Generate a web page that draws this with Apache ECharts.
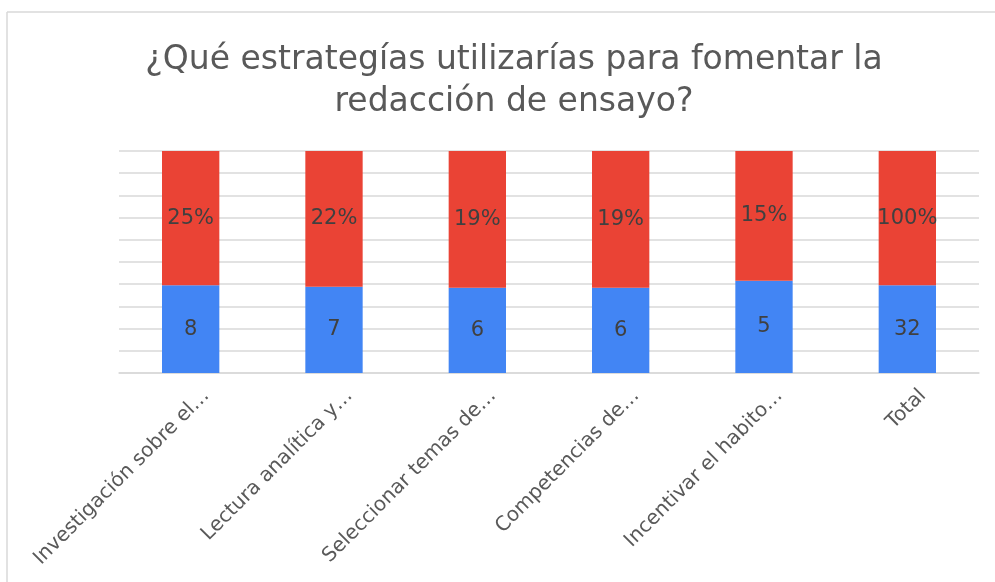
<!DOCTYPE html>
<html>
<head>
<meta charset="utf-8">
<script src="https://cdn.jsdelivr.net/npm/echarts@6/dist/echarts.min.js"></script>
<style>
html,body{margin:0;padding:0;background:#fff;}
#chart{width:995px;height:582px;}
</style>
</head>
<body>
<div id="chart"></div>
<script>
var categories = ['Investigación sobre el…', 'Lectura analítica y…', 'Seleccionar temas de…', 'Competencias de…', 'Incentivar el habito…', 'Total'];
var counts = [8, 7, 6, 6, 5, 32];
var percentLabels = ['25%', '22%', '19%', '19%', '15%', '100%'];
// segment shares of the 100% stacked bars
var blueShare = [39.5, 38.9, 38.4, 38.4, 41.6, 39.5];
var redShare = [60.5, 61.1, 61.6, 61.6, 58.4, 60.5];
var titleLines = ['¿Qué estrategías utilizarías para fomentar la', 'redacción de ensayo?'];

var chart = echarts.init(document.getElementById('chart'), null, {renderer: 'canvas'});
var font = 'DejaVu Sans, Liberation Sans, Arial, sans-serif';
var borderStyle = {stroke: '#d9d9d9', lineWidth: 1.5};
chart.setOption({
  animation: false,
  backgroundColor: '#ffffff',
  title: {
    text: titleLines.join('\n'),
    left: 509,
    textAlign: 'center',
    top: 34,
    textStyle: {fontFamily: font, fontSize: 33, fontWeight: 'normal', color: '#595959', lineHeight: 42}
  },
  graphic: [
    {type: 'line', silent: true, shape: {x1: 7, y1: 12, x2: 995, y2: 12}, style: borderStyle},
    {type: 'line', silent: true, shape: {x1: 7, y1: 12, x2: 7, y2: 582}, style: borderStyle}
  ],
  grid: {left: 119, right: 16, top: 151, bottom: 209, containLabel: false},
  xAxis: {
    type: 'category',
    data: categories,
    axisLine: {show: true, lineStyle: {color: '#d9d9d9', width: 1.5}},
    axisTick: {show: false},
    axisLabel: {rotate: 45, interval: 0, margin: 4, verticalAlign: 'top', align: 'right',
      padding: [12, 0, 0, 0],
      fontFamily: font, fontSize: 20, color: '#595959'}
  },
  yAxis: {
    type: 'value', min: 0, max: 100, interval: 10,
    axisLabel: {show: false}, axisLine: {show: false}, axisTick: {show: false},
    splitLine: {lineStyle: {color: '#d9d9d9', width: 1.5}}
  },
  series: [{
    type: 'bar', stack: 's', barWidth: '40%',
    data: blueShare,
    itemStyle: {color: '#4285F4'},
    label: {show: true, position: 'inside', fontFamily: font, fontSize: 21, color: '#404040',
      formatter: function (p) { return String(counts[p.dataIndex]); }}
  }, {
    type: 'bar', stack: 's', barWidth: '40%',
    data: redShare,
    itemStyle: {color: '#EA4335'},
    label: {show: true, position: 'inside', fontFamily: font, fontSize: 21, color: '#404040',
      formatter: function (p) { return percentLabels[p.dataIndex]; }}
  }]
});
</script>
</body>
</html>
